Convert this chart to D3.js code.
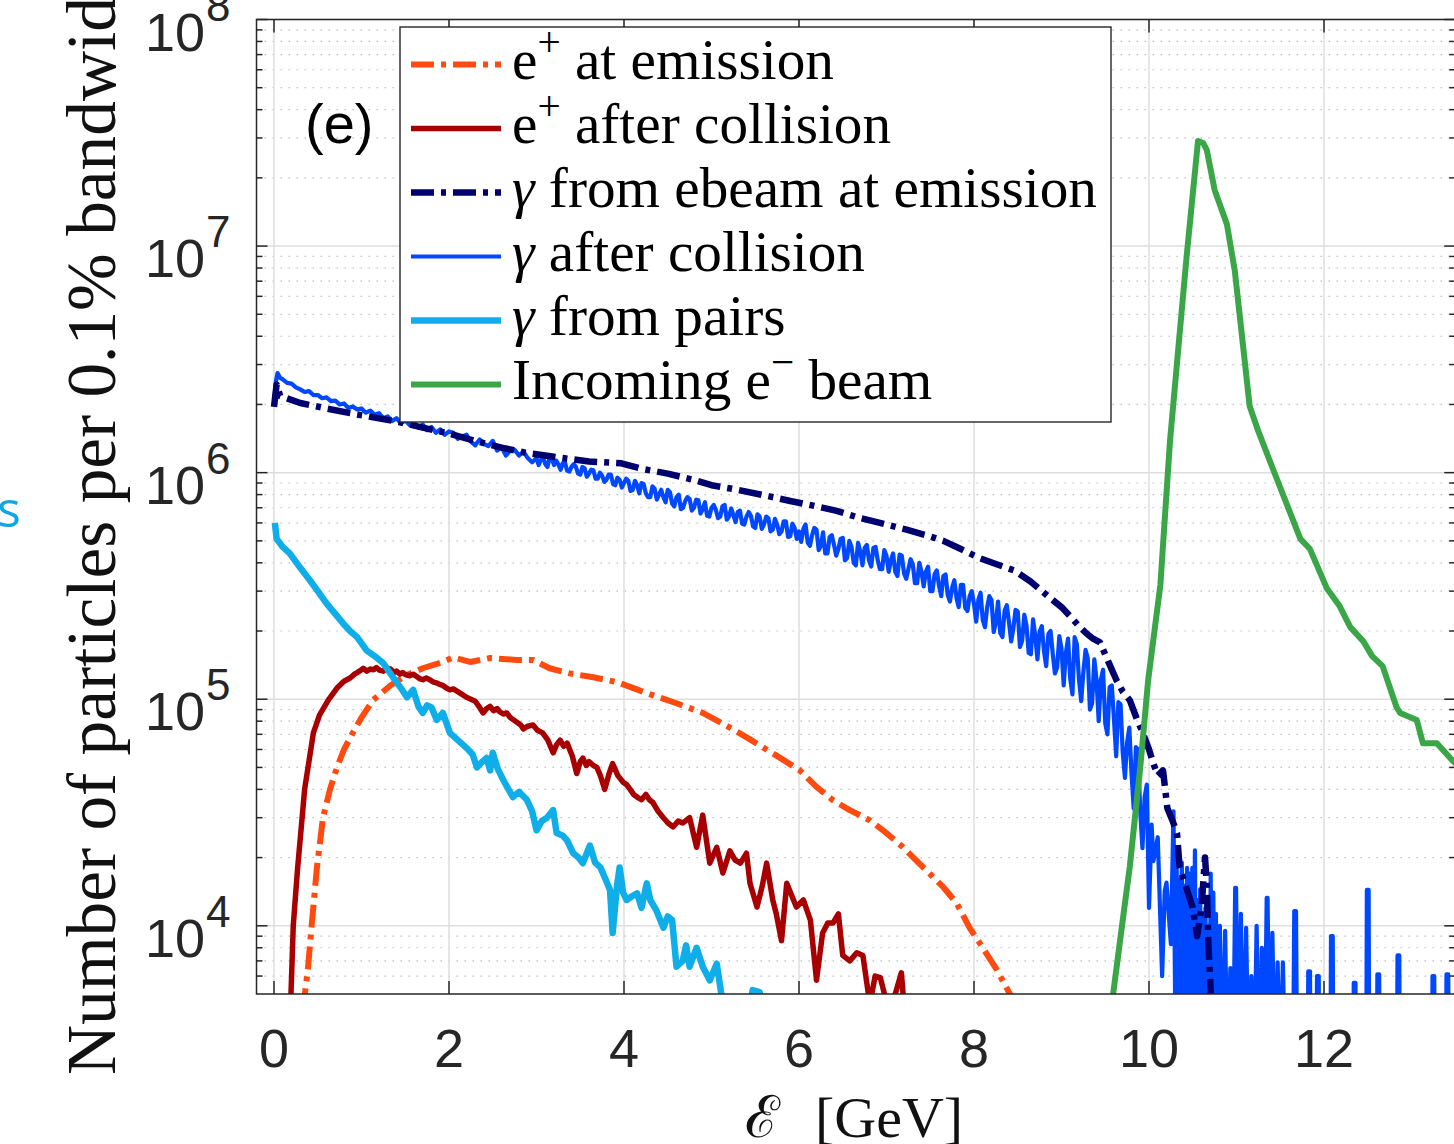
<!DOCTYPE html>
<html><head><meta charset="utf-8">
<script src="https://cdn.jsdelivr.net/npm/d3@7"></script>
<style>body{margin:0;background:#fff;overflow:hidden} svg{display:block}</style>
</head><body>
<svg id="chart" width="1454" height="1144"></svg>
<script>
// ---------------- data ----------------
const xTicks = [0, 2, 4, 6, 8, 10, 12];
const yTicks = [1e4, 1e5, 1e6, 1e7, 1e8];
const yTickExponents = ["4", "5", "6", "7", "8"];
const legendLabels = ["e^+ at emission", "e^+ after collision", "γ from ebeam at emission",
                      "γ after collision", "γ from pairs", "Incoming e^− beam"];

// e+ at emission (dash-dot)
const ePlusEmission = [[0.33,4.2e3],[0.39,6.6e3],[0.43,1.0e4],[0.49,1.8e4],[0.56,3.0e4],[0.64,4.0e4],[0.72,5.0e4],[0.80,6.0e4],[0.90,7.1e4],[1.0,8.3e4],[1.13,9.9e4],[1.33,1.15e5],[1.52,1.28e5],[1.7,1.37e5],[1.93,1.46e5],[2.05,1.53e5],[2.24,1.46e5],[2.47,1.52e5],[2.77,1.49e5],[2.96,1.49e5],[3.15,1.37e5],[3.38,1.30e5],[3.65,1.25e5],[3.92,1.19e5],[4.3,1.05e5],[4.6,9.6e4],[4.9,8.7e4],[5.13,7.8e4],[5.44,6.65e4],[5.82,5.4e4],[6.01,4.85e4],[6.2,4.1e4],[6.39,3.58e4],[6.58,3.24e4],[6.81,2.92e4],[6.96,2.64e4],[7.19,2.22e4],[7.42,1.81e4],[7.65,1.48e4],[7.8,1.26e4],[7.95,9.8e3],[8.1,8.0e3],[8.26,6.4e3],[8.41,5.0e3],[8.5,4.2e3]];

// e+ after collision
const ePlusAfter = [[0.19,4.5e3],[0.22,1.0e4],[0.27,1.8e4],[0.35,4.0e4],[0.45,7.1e4],[0.52,8.5e4],[0.62,9.9e4],[0.72,1.12e5],[0.8,1.2e5],[0.87,1.24e5],[0.92,1.29e5],[0.95,1.31e5],[0.99,1.34e5],[1.02,1.37e5],[1.06,1.33e5],[1.1,1.36e5],[1.14,1.35e5],[1.17,1.38e5],[1.21,1.34e5],[1.25,1.33e5],[1.29,1.37e5],[1.33,1.36e5],[1.37,1.31e5],[1.4,1.33e5],[1.44,1.29e5],[1.47,1.31e5],[1.51,1.28e5],[1.55,1.27e5],[1.59,1.29e5],[1.63,1.26e5],[1.67,1.23e5],[1.7,1.22e5],[1.74,1.24e5],[1.78,1.22e5],[1.82,1.19e5],[1.86,1.18e5],[1.9,1.16e5],[1.93,1.15e5],[1.97,1.12e5],[2.01,1.10e5],[2.05,1.11e5],[2.1,1.08e5],[2.15,1.05e5],[2.2,1.02e5],[2.25,1.0e5],[2.3,9.8e4],[2.35,9.2e4],[2.39,8.7e4],[2.43,9.1e4],[2.47,9.3e4],[2.51,8.9e4],[2.55,9.1e4],[2.58,8.8e4],[2.62,8.6e4],[2.66,8.7e4],[2.7,8.3e4],[2.74,8.1e4],[2.78,7.9e4],[2.82,7.7e4],[2.85,7.4e4],[2.9,7.6e4],[2.96,7.7e4],[3.01,7.3e4],[3.07,7.1e4],[3.13,6.6e4],[3.19,5.8e4],[3.23,6.3e4],[3.27,6.6e4],[3.31,6.2e4],[3.35,6.4e4],[3.41,5.6e4],[3.46,4.7e4],[3.5,5.3e4],[3.53,5.5e4],[3.57,5.1e4],[3.6,5.3e4],[3.65,5.1e4],[3.69,5.0e4],[3.73,4.6e4],[3.78,4.0e4],[3.83,4.7e4],[3.87,5.2e4],[3.93,4.6e4],[3.99,4.3e4],[4.03,4.2e4],[4.07,4.0e4],[4.11,3.8e4],[4.15,3.7e4],[4.2,3.6e4],[4.25,3.8e4],[4.29,3.6e4],[4.33,3.5e4],[4.39,3.2e4],[4.45,3.0e4],[4.5,2.85e4],[4.56,2.73e4],[4.62,2.9e4],[4.67,2.84e4],[4.75,3.0e4],[4.83,2.22e4],[4.9,3.08e4],[4.98,1.89e4],[5.06,2.22e4],[5.13,1.71e4],[5.21,2.14e4],[5.27,1.95e4],[5.33,1.89e4],[5.40,2.09e4],[5.44,1.54e4],[5.52,1.21e4],[5.58,1.5e4],[5.63,1.89e4],[5.7,1.3e4],[5.74,1.13e4],[5.80,8.6e3],[5.86,1.54e4],[5.92,1.35e4],[5.97,1.21e4],[6.05,1.3e4],[6.13,1.06e4],[6.2,5.75e3],[6.27,9.3e3],[6.33,1.03e4],[6.39,1.03e4],[6.45,1.13e4],[6.5,7.4e3],[6.58,7.0e3],[6.66,7.6e3],[6.73,7.4e3],[6.81,4.5e3],[6.87,6.0e3],[6.93,5.9e3],[7.0,4.6e3],[7.04,4.0e3],[7.1,5.0e3],[7.17,6.2e3],[7.21,4.0e3]];

// gamma from e-beam at emission (dash-dot)
const gammaEmission = [[0.0,1.95e6],[0.03,2.45e6],[0.07,2.18e6],[0.3,2.03e6],[0.6,1.92e6],[0.87,1.83e6],[1.15,1.75e6],[1.44,1.67e6],[1.7,1.58e6],[2.0,1.49e6],[2.3,1.38e6],[2.6,1.29e6],[2.85,1.23e6],[3.1,1.19e6],[3.3,1.16e6],[3.6,1.12e6],[3.97,1.10e6],[4.2,1.04e6],[4.5,9.9e5],[4.79,9.3e5],[5.0,8.8e5],[5.3,8.4e5],[5.6,7.95e5],[5.9,7.5e5],[6.2,7.1e5],[6.42,6.8e5],[6.7,6.3e5],[7.0,5.9e5],[7.23,5.6e5],[7.45,5.3e5],[7.65,5.0e5],[7.85,4.6e5],[8.06,4.2e5],[8.25,3.95e5],[8.46,3.7e5],[8.65,3.3e5],[8.87,2.8e5],[9.0,2.55e5],[9.11,2.3e5],[9.2,2.1e5],[9.28,1.96e5],[9.36,1.85e5],[9.44,1.78e5],[9.54,1.45e5],[9.63,1.21e5],[9.7,1.08e5],[9.78,9.9e4],[9.86,8.2e4],[9.93,7.1e4],[10.0,6.0e4],[10.05,5.2e4],[10.1,4.6e4],[10.16,4.85e4],[10.21,3.3e4],[10.27,2.9e4],[10.32,2.56e4],[10.35,1.81e4],[10.42,1.5e4],[10.5,1.2e4],[10.55,9e3],[10.6,1.2e4],[10.64,2.0e4],[10.66,1.54e4],[10.68,8e3],[10.72,4e3]];

// gamma after collision (noisy histogram), main bins
const gammaAfter = [[0.0,2.0e6],[0.02,2.5e6],[0.04,2.75e6],[0.07,2.62e6],[0.1,2.58e6],[0.15,2.49e6],[0.2,2.47e6],[0.25,2.38e6],[0.3,2.33e6],[0.35,2.27e6],[0.4,2.29e6],[0.45,2.2e6],[0.5,2.2e6],[0.55,2.13e6],[0.6,2.15e6],[0.65,2.07e6],[0.7,2.08e6],[0.75,2.0e6],[0.8,2.02e6],[0.85,1.93e6],[0.9,1.96e6],[0.95,1.9e6],[1.0,1.92e6],[1.05,1.84e6],[1.1,1.88e6],[1.15,1.8e6],[1.2,1.83e6],[1.25,1.74e6],[1.3,1.77e6],[1.35,1.69e6],[1.4,1.74e6],[1.45,1.65e6],[1.5,1.7e6],[1.55,1.62e6],[1.6,1.66e6],[1.65,1.58e6],[1.7,1.63e6],[1.75,1.54e6],[1.8,1.59e6],[1.85,1.5e6],[1.9,1.55e6],[1.95,1.47e6],[2.0,1.52e6],
[2.05,1.50e6],[2.1,1.41e6],[2.15,1.44e6],[2.2,1.47e6],[2.25,1.37e6],[2.3,1.32e6],[2.35,1.40e6],[2.4,1.34e6],[2.45,1.31e6],[2.5,1.38e6],[2.55,1.25e6],[2.6,1.30e6],[2.65,1.19e6],[2.7,1.25e6],[2.75,1.26e6],[2.8,1.19e6],[2.85,1.24e6],[2.9,1.16e6],[2.95,1.11e6],[3.0,1.16e6],[3.05,1.14e6],[3.1,1.09e6],[3.15,1.17e6],[3.2,1.08e6],[3.25,1.085e6],[3.3,1.10e6],[3.35,1.02e6],[3.4,1.06e6],[3.45,1.06e6],[3.5,9.8e5],[3.55,1.045e6],[3.6,9.9e5],[3.65,1.025e6],[3.7,9.4e5],[3.75,9.7e5],[3.8,9.3e5],[3.85,9.8e5],[3.9,8.8e5],[3.95,9.3e5],[4.0,9.0e5],
[4.05,9.2e5],[4.1,8.4e5],[4.15,8.8e5],[4.2,9.0e5],[4.25,8.1e5],[4.3,7.8e5],[4.35,8.5e5],[4.4,8.0e5],[4.45,7.8e5],[4.5,8.4e5],[4.55,7.3e5],[4.6,7.8e5],[4.65,6.9e5],[4.7,7.5e5],[4.75,7.65e5],[4.8,7.0e5],[4.85,7.55e5],[4.9,6.9e5],[4.95,6.45e5],[5.0,7.0e5],[5.05,6.85e5],[5.1,6.4e5],[5.15,7.2e5],[5.2,6.4e5],[5.25,6.5e5],[5.3,6.7e5],[5.35,5.95e5],[5.4,6.4e5],[5.45,6.45e5],[5.5,5.7e5],[5.55,6.4e5],[5.6,5.9e5],[5.65,6.3e5],[5.7,5.6e5],[5.75,5.9e5],[5.8,5.5e5],[5.85,6.1e5],[5.9,5.25e5],[5.95,5.7e5],[6.0,5.5e5],
[6.05,5.65e5],[6.1,4.9e5],[6.15,5.3e5],[6.2,5.6e5],[6.25,4.75e5],[6.3,4.4e5],[6.35,5.2e5],[6.4,4.8e5],[6.45,4.6e5],[6.5,5.15e5],[6.55,4.2e5],[6.6,4.7e5],[6.65,3.9e5],[6.7,4.5e5],[6.75,4.65e5],[6.8,4.1e5],[6.85,4.65e5],[6.9,4.1e5],[6.95,3.75e5],[7.0,4.3e5],[7.05,4.1e5],[7.1,3.65e5],[7.15,4.35e5],[7.2,3.6e5],[7.25,3.75e5],[7.3,3.95e5],[7.35,3.25e5],[7.4,3.65e5],[7.45,3.65e5],[7.5,3.0e5],[7.55,3.57e5],[7.6,3.17e5],[7.65,3.5e5],[7.7,2.88e5],[7.75,3.1e5],[7.8,2.8e5],[7.85,3.2e5],[7.9,2.53e5],[7.95,2.85e5],[8.0,2.63e5],
[8.05,2.75e5],[8.1,2.24e5],[8.15,2.54e5],[8.2,2.74e5],[8.25,2.18e5],[8.3,1.96e5],[8.35,2.46e5],[8.4,2.18e5],[8.45,2.06e5],[8.5,2.44e5],[8.55,1.81e5],[8.6,2.11e5],[8.65,1.58e5],[8.7,1.91e5],[8.75,1.99e5],[8.8,1.63e5],[8.85,1.94e5],[8.9,1.59e5],[8.95,1.38e5],[9.0,1.67e5],
[9.05,1.60e5],[9.1,1.23e5],[9.15,1.88e5],[9.2,1.22e5],[9.25,1.32e5],[9.3,1.52e5],[9.35,9.6e4],[9.4,1.22e5],[9.45,1.22e5],[9.5,7.8e4],[9.55,1.13e5],[9.6,8.1e4],[9.65,9.7e4],[9.7,5.8e4],[9.75,6.46e4],[9.8,4.72e4],[9.85,6.14e4],[9.9,3.18e4],[9.95,3.7e4],[10.0,1.2e4],[10.03,2.8e4],[10.05,1.93e4],[10.1,2.46e4],[10.15,6.0e3],[10.18,1.43e4],[10.2,1.55e4],[10.25,8.3e3],[10.28,3.2e4],
[10.30,4.0e3],[10.315,2.2e4],[10.33,3e3],[10.345,1.6e4],[10.36,2e3],[10.375,1.9e4],[10.39,4e3],[10.405,1.5e4],[10.42,2e3],[10.435,1.8e4],[10.45,3e3],[10.465,1.7e4],[10.48,2e3],[10.495,1.8e4],[10.51,3e3],[10.525,2.15e4],[10.54,2e3],[10.555,1.3e4],[10.57,3e3],[10.585,1.45e4],[10.60,2e3],[10.615,1.1e4],[10.63,3e3],[10.645,1.2e4],[10.66,2e3],[10.675,1.0e4],[10.69,2e3],[10.705,1.7e4],[10.72,3e3],[10.735,1.4e4],[10.75,2e3],[10.765,1.13e4],[10.78,2e3],
[10.81,1.0e4],[10.84,2.0e3],[10.87,9.5e3],[10.90,2.0e3],[10.93,6.5e3],[10.96,2.0e3],[10.985,1.47e4],[10.995,1.47e4],[11.02,2.0e3],[11.05,1.13e4],[11.08,2.0e3],[11.11,9.8e3],[11.14,2.0e3],[11.17,6.0e3],[11.20,2.0e3],[11.23,1.0e4],[11.26,2.0e3],[11.29,8.0e3],[11.32,2.0e3],[11.345,1.33e4],[11.355,1.33e4],[11.38,2.0e3],[11.41,9.3e3],[11.44,2.0e3],[11.47,6.9e3],[11.50,2.0e3],[11.53,6.9e3],[11.56,2.0e3],
[11.64,1e3],[11.66,1.16e4],[11.68,1.16e4],[11.70,1e3],[11.81,1e3],[11.82,6.3e3],[11.84,6.3e3],[11.85,1e3],[11.91,1e3],[11.92,6.0e3],[11.94,6.0e3],[11.95,1e3],[12.07,1e3],[12.08,9.0e3],[12.10,9.0e3],[12.11,1e3],[12.33,1e3],[12.34,5.6e3],[12.36,5.6e3],[12.37,1e3],[12.48,1e3],[12.49,1.44e4],[12.51,1.44e4],[12.52,1e3],[12.60,1e3],[12.61,6.1e3],[12.63,6.1e3],[12.64,1e3],[12.83,1e3],[12.84,7.4e3],[12.86,7.4e3],[12.87,1e3],[13.23,1e3],[13.24,6.0e3],[13.26,6.0e3],[13.27,1e3],[13.39,1e3],[13.40,6.1e3],[13.42,6.1e3],[13.43,1e3]];

// gamma after collision, the in-between bins (3-10 GeV), same series
const gammaAfterMid = [[3.025,1.08e6],[3.075,1.17e6],[3.125,1.06e6],[3.175,1.15e6],[3.225,1.13e6],[3.275,1.03e6],[3.325,1.11e6],[3.375,1.01e6],[3.425,1.09e6],[3.475,9.9e5],[3.525,1.06e6],[3.575,9.6e5],[3.625,1.03e6],[3.675,9.4e5],[3.725,1.0e6],[3.775,9.1e5],[3.825,9.8e5],[3.875,8.9e5],[3.925,9.5e5],[3.975,8.6e5],
[4.025,9.4e5],[4.075,8.3e5],[4.125,9.2e5],[4.175,8.1e5],[4.225,8.9e5],[4.275,7.8e5],[4.325,8.7e5],[4.375,7.6e5],[4.425,8.4e5],[4.475,7.4e5],[4.525,8.2e5],[4.575,7.1e5],[4.625,8.0e5],[4.675,7.0e5],[4.725,7.8e5],[4.775,6.8e5],[4.825,7.6e5],[4.875,6.6e5],[4.925,7.4e5],[4.975,6.4e5],
[5.025,7.2e5],[5.075,6.3e5],[5.125,7.1e5],[5.175,6.2e5],[5.225,6.95e5],[5.275,6.05e5],[5.325,6.8e5],[5.375,5.9e5],[5.425,6.7e5],[5.475,5.8e5],[5.525,6.55e5],[5.575,5.65e5],[5.625,6.4e5],[5.675,5.5e5],[5.725,6.25e5],[5.775,5.35e5],[5.825,6.1e5],[5.875,5.2e5],[5.925,5.95e5],[5.975,5.1e5],
[6.025,4.95e5],[6.075,5.9e5],[6.125,4.75e5],[6.175,5.7e5],[6.225,4.55e5],[6.275,5.45e5],[6.325,4.4e5],[6.375,5.3e5],[6.425,4.3e5],[6.475,5.1e5],[6.525,4.1e5],[6.575,5.0e5],[6.625,4.0e5],[6.675,4.9e5],[6.725,3.9e5],[6.775,4.8e5],[6.825,3.85e5],[6.875,4.7e5],[6.925,3.75e5],[6.975,4.55e5],
[7.025,3.65e5],[7.075,4.4e5],[7.125,3.5e5],[7.175,4.3e5],[7.225,3.4e5],[7.275,4.15e5],[7.325,3.25e5],[7.375,4.0e5],[7.425,3.15e5],[7.475,3.85e5],[7.525,3.0e5],[7.575,3.7e5],[7.625,2.85e5],[7.675,3.55e5],[7.725,2.7e5],[7.775,3.35e5],[7.825,2.55e5],[7.875,3.2e5],[7.925,2.45e5],[7.975,3.0e5],
[8.025,2.2e5],[8.075,2.95e5],[8.125,2.08e5],[8.175,2.85e5],[8.225,1.98e5],[8.275,2.7e5],[8.325,1.88e5],[8.375,2.6e5],[8.425,1.8e5],[8.475,2.48e5],[8.525,1.7e5],[8.575,2.36e5],[8.625,1.6e5],[8.675,2.25e5],[8.725,1.5e5],[8.775,2.1e5],[8.825,1.4e5],[8.875,2.0e5],[8.925,1.3e5],[8.975,1.9e5],
[9.025,1.15e5],[9.075,1.85e5],[9.125,1.05e5],[9.175,1.75e5],[9.225,9.8e4],[9.275,1.65e5],[9.325,9.0e4],[9.375,1.5e5],[9.425,8.0e4],[9.475,1.35e5],[9.525,7.0e4],[9.575,1.15e5],[9.625,5.6e4],[9.675,9.5e4],[9.725,4.5e4],[9.775,7.5e4],[9.825,3.3e4],[9.875,6.0e4],[9.925,2.2e4],[9.975,4.2e4]];

// gamma from pairs
const gammaPairs = [[0.01,6.0e5],[0.03,5.1e5],[0.1,4.7e5],[0.18,4.4e5],[0.3,3.8e5],[0.41,3.35e5],[0.5,3.0e5],[0.6,2.65e5],[0.7,2.38e5],[0.79,2.16e5],[0.87,2.0e5],[0.95,1.88e5],[1.06,1.64e5],[1.15,1.55e5],[1.25,1.44e5],[1.36,1.25e5],[1.45,1.12e5],[1.52,1.02e5],[1.59,1.10e5],[1.65,9.3e4],[1.7,8.7e4],[1.75,9.4e4],[1.8,9.2e4],[1.86,8.1e4],[1.93,8.7e4],[2.01,7.1e4],[2.1,6.6e4],[2.2,6.1e4],[2.27,5.7e4],[2.32,5.0e4],[2.38,5.3e4],[2.43,5.5e4],[2.47,4.85e4],[2.5,5.8e4],[2.56,4.9e4],[2.62,4.4e4],[2.68,4.0e4],[2.73,3.7e4],[2.8,3.9e4],[2.89,3.6e4],[2.95,3.2e4],[3.0,2.64e4],[3.06,2.9e4],[3.12,3.0e4],[3.19,3.24e4],[3.23,2.57e4],[3.3,2.5e4],[3.35,2.38e4],[3.42,2.09e4],[3.48,2.0e4],[3.53,1.89e4],[3.61,2.26e4],[3.67,1.9e4],[3.73,1.81e4],[3.79,1.6e4],[3.84,1.44e4],[3.87,9.3e3],[3.92,1.5e4],[3.95,1.81e4],[3.99,1.4e4],[4.03,1.3e4],[4.09,1.35e4],[4.15,1.39e4],[4.2,1.2e4],[4.26,1.54e4],[4.3,1.3e4],[4.37,1.17e4],[4.45,9.8e3],[4.5,1.1e4],[4.55,1.06e4],[4.6,6.6e3],[4.67,7.0e3],[4.71,8.2e3],[4.75,6.6e3],[4.83,8.0e3],[4.9,6.6e3],[4.98,5.75e3],[5.06,6.8e3],[5.13,4.5e3],[5.2,3.5e3],[5.4,3.5e3],[5.47,5.2e3],[5.55,5.1e3],[5.6,4.0e3]];

// incoming e- beam
const eBeam = [[9.5,3.0e3],[9.59,5.0e3],[9.70,1.06e4],[9.78,1.82e4],[9.90,5.0e4],[9.99,1.21e5],[10.13,3.2e5],[10.24,1.38e6],[10.35,4.1e6],[10.43,9.0e6],[10.56,2.91e7],[10.62,2.85e7],[10.66,2.66e7],[10.75,1.77e7],[10.89,1.25e7],[10.98,7.8e6],[11.06,4.1e6],[11.15,1.97e6],[11.25,1.52e6],[11.42,1.03e6],[11.73,5.1e5],[11.84,4.6e5],[12.03,3.1e5],[12.18,2.57e5],[12.30,2.08e5],[12.45,1.8e5],[12.55,1.55e5],[12.67,1.4e5],[12.83,9.2e4],[12.87,8.7e4],[13.06,8.1e4],[13.13,6.4e4],[13.29,6.4e4],[13.46,5.4e4],[13.6,4.8e4]];

// ---------------- drawing ----------------
const svg = d3.select("#chart");
const L = 256.5, R = 1455.25, T = 19.5, B = 994;
const x = d3.scaleLinear().domain([-0.2, 13.5]).range([L, R]);
const y = d3.scaleLog().domain([5e3, 1e8]).range([B, T]);
const axisColor = "#262626";

svg.append("rect").attr("width", 1454).attr("height", 1144).attr("fill", "#fff");
svg.append("defs").append("clipPath").attr("id", "plotClip")
  .append("rect").attr("x", L).attr("y", T).attr("width", R - L).attr("height", B - T);

const minorY = [];
[1e3, 1e4, 1e5, 1e6, 1e7].forEach(d => { for (let m = 2; m <= 9; m++) { const v = m * d; if (v > 5e3 && v < 1e8) minorY.push(v); } });

const grid = svg.append("g");
grid.selectAll(".minor").data(minorY).join("line")
  .attr("x1", L).attr("x2", R).attr("y1", d => y(d)).attr("y2", d => y(d))
  .attr("stroke", "#bdbdbd").attr("stroke-width", 1.2).attr("stroke-dasharray", "1.5,6.5");
grid.selectAll(".majy").data(yTicks).join("line")
  .attr("x1", L).attr("x2", R).attr("y1", d => y(d)).attr("y2", d => y(d))
  .attr("stroke", "#dedede").attr("stroke-width", 1.5);
grid.selectAll(".majx").data(xTicks).join("line")
  .attr("x1", d => x(d)).attr("x2", d => x(d)).attr("y1", T).attr("y2", B)
  .attr("stroke", "#dedede").attr("stroke-width", 1.5);

const line = d3.line().x(d => x(d[0])).y(d => y(Math.max(d[1], 100)));
const dashDot = "23,7,5,7";
const gammaAfterAll = gammaAfter.concat(gammaAfterMid).sort((a, b) => a[0] - b[0]);
const sty = {
  ePlusEmission: { data: ePlusEmission, color: "#FF4A10", width: 6, dash: dashDot },
  ePlusAfter:    { data: ePlusAfter,    color: "#A80000", width: 5.5, dash: null },
  gammaAfter:    { data: gammaAfterAll, color: "#0048FF", width: 4.2, dash: null },
  gammaEmission: { data: gammaEmission, color: "#00006E", width: 6.5, dash: dashDot },
  gammaPairs:    { data: gammaPairs,    color: "#10AEE8", width: 6.5, dash: null },
  eBeam:         { data: eBeam,         color: "#3AA648", width: 6, dash: null }
};
const drawOrder = ["ePlusEmission", "ePlusAfter", "gammaAfter", "gammaEmission", "gammaPairs", "eBeam"];
const legendOrder = ["ePlusEmission", "ePlusAfter", "gammaEmission", "gammaAfter", "gammaPairs", "eBeam"];

const plot = svg.append("g").attr("clip-path", "url(#plotClip)");
drawOrder.forEach(k => {
  const s = sty[k];
  plot.append("path").attr("d", line(s.data)).attr("fill", "none")
    .attr("stroke", s.color).attr("stroke-width", s.width)
    .attr("stroke-linejoin", "round")
    .attr("stroke-dasharray", s.dash);
});

// frame and ticks
const ax = svg.append("g").attr("stroke", axisColor);
ax.append("rect").attr("x", L).attr("y", T).attr("width", R - L).attr("height", B - T)
  .attr("fill", "none").attr("stroke-width", 1.5);
xTicks.forEach(t => {
  ax.append("line").attr("x1", x(t)).attr("x2", x(t)).attr("y1", B).attr("y2", B - 13).attr("stroke-width", 1.5);
  ax.append("line").attr("x1", x(t)).attr("x2", x(t)).attr("y1", T).attr("y2", T + 13).attr("stroke-width", 1.5);
});
yTicks.forEach(t => {
  ax.append("line").attr("x1", L).attr("x2", L + 11).attr("y1", y(t)).attr("y2", y(t)).attr("stroke-width", 1.5);
  ax.append("line").attr("x1", R).attr("x2", R - 11).attr("y1", y(t)).attr("y2", y(t)).attr("stroke-width", 1.5);
});
minorY.forEach(t => {
  ax.append("line").attr("x1", L).attr("x2", L + 6).attr("y1", y(t)).attr("y2", y(t)).attr("stroke-width", 1.5);
  ax.append("line").attr("x1", R).attr("x2", R - 6).attr("y1", y(t)).attr("y2", y(t)).attr("stroke-width", 1.5);
});

// tick labels
const tickFont = "'Liberation Sans', Arial, Helvetica, sans-serif";
svg.append("g").selectAll("text").data(xTicks).join("text")
  .attr("x", d => x(d)).attr("y", 1067).attr("text-anchor", "middle")
  .attr("font-family", tickFont).attr("font-size", 54).attr("fill", axisColor)
  .text(d => d);
yTicks.forEach((t, i) => {
  svg.append("text").attr("x", 205).attr("y", y(t) + 31).attr("text-anchor", "end")
    .attr("font-family", tickFont).attr("font-size", 54).attr("fill", axisColor).text("10");
  svg.append("text").attr("x", 206).attr("y", y(t) + 1).attr("text-anchor", "start")
    .attr("font-family", tickFont).attr("font-size", 44).attr("fill", axisColor).text(yTickExponents[i]);
});

// axis labels (serif)
const serif = "'Liberation Serif', 'Times New Roman', serif";
const yLabelText = "Number of particles per 0.1% bandwidth";
const probe = svg.append("text").attr("font-family", serif).attr("font-size", 100).text("Number of particles per 0.1% bandwid");
const labelSize = 100 * 1078 / probe.node().getComputedTextLength();
probe.remove();
svg.append("text").attr("transform", "translate(115,1075) rotate(-90)")
  .attr("font-family", serif).attr("font-size", labelSize).attr("fill", "#111").text(yLabelText);
svg.append("text").attr("x", 745).attr("y", 1137).attr("font-family", serif)
  .attr("font-size", 58).attr("fill", "#111").text("ℰ");
svg.append("text").attr("x", 815).attr("y", 1137).attr("font-family", serif)
  .attr("font-size", 58).attr("fill", "#111").text("[GeV]");

// panel tag
svg.append("text").attr("x", 305).attr("y", 143).attr("font-family", tickFont)
  .attr("font-size", 56).attr("fill", "#000").text("(e)");

// cropped neighbour text at the far left
svg.append("text").attr("x", -3).attr("y", 527).attr("font-family", "'Open Sans', sans-serif")
  .attr("font-size", 50).attr("fill", "#12A5E3").text("s");

// legend
const lg = svg.append("g");
lg.append("rect").attr("x", 400).attr("y", 27).attr("width", 711).attr("height", 395)
  .attr("fill", "#fff").attr("stroke", axisColor).attr("stroke-width", 1.4);

function renderLabel(sel, label, fs) {
  sel.selectAll("*").remove();
  const parts = label.split(/(\^.|γ)/).filter(p => p.length);
  let shifted = false;
  parts.forEach(p => {
    if (p.startsWith("^")) {
      sel.append("tspan").attr("dy", -0.4 * fs).attr("font-size", fs * 0.72).text(p.slice(1));
      shifted = true;
    } else if (p === "γ") {
      sel.append("tspan").attr("font-style", "italic").text("γ");
    } else {
      const t = sel.append("tspan").text(p);
      if (shifted) { t.attr("dy", 0.4 * fs); shifted = false; }
    }
  });
}
const legendTexts = [];
legendLabels.forEach((lab, i) => {
  const ly = 64.5 + i * 64;
  const s = sty[legendOrder[i]];
  lg.append("line").attr("x1", 411).attr("x2", 501).attr("y1", ly).attr("y2", ly)
    .attr("stroke", s.color).attr("stroke-width", s.width).attr("stroke-dasharray", s.dash);
  const t = lg.append("text").attr("x", 512).attr("y", ly + 14)
    .attr("font-family", serif).attr("fill", "#000").attr("font-size", 50);
  renderLabel(t, lab, 50);
  legendTexts.push(t);
});
const legFs = 50 * 585 / legendTexts[2].node().getComputedTextLength();
legendTexts.forEach((t, i) => { t.attr("font-size", legFs); renderLabel(t, legendLabels[i], legFs); });
</script>
</body></html>
